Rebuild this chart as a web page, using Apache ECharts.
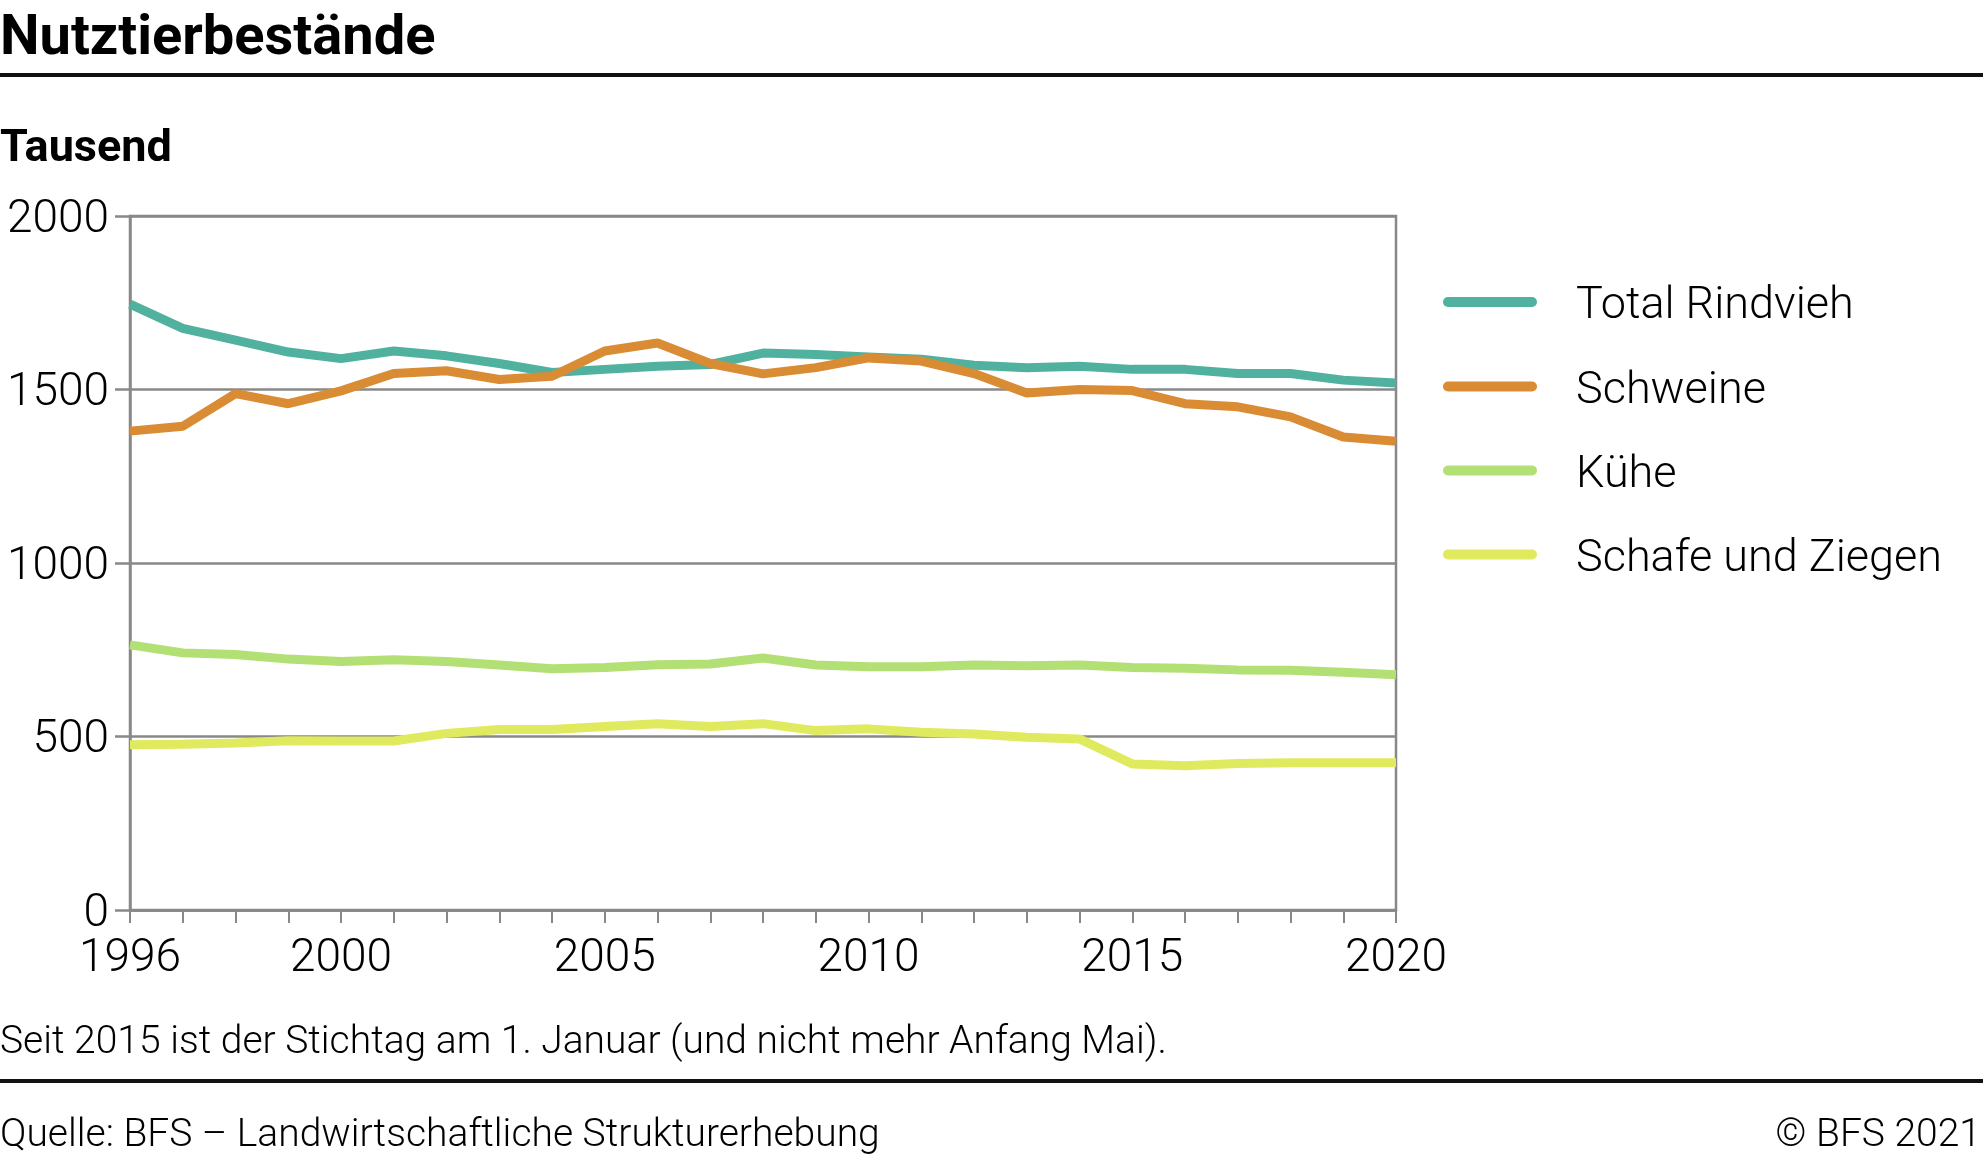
<!DOCTYPE html>
<html>
<head>
<meta charset="utf-8">
<script src="https://cdn.jsdelivr.net/npm/echarts@6/dist/echarts.min.js"></script>
<style>
html,body{margin:0;padding:0;background:#fff;}
#chart{width:1983px;height:1161px;}
</style>
</head>
<body>
<div id="chart"></div>
<script>
const years = ['1996','1997','1998','1999','2000','2001','2002','2003','2004','2005','2006','2007','2008','2009','2010','2011','2012','2013','2014','2015','2016','2017','2018','2019','2020'];
const xLabelsShown = ['1996','2000','2005','2010','2015','2020'];
const yTicks = [0, 500, 1000, 1500, 2000];
const seriesNames = ['Total Rindvieh','Schweine','Kühe','Schafe und Ziegen'];
const rindvieh = [1746,1676,1642,1608,1589,1611,1597,1575,1549,1558,1567,1572,1605,1601,1594,1587,1570,1563,1567,1558,1558,1546,1546,1527,1519];
const schweine = [1380,1394,1488,1459,1496,1546,1554,1529,1538,1611,1634,1575,1545,1563,1591,1582,1546,1490,1500,1497,1459,1450,1421,1363,1351];
const kuehe = [764,741,736,723,716,721,716,706,695,699,707,709,726,706,701,701,706,704,706,699,697,692,691,685,678];
const schafe = [476,478,481,488,487,487,509,520,520,529,537,529,537,517,522,512,507,498,493,421,416,422,424,424,424];
const colors = ['#50b29e','#d98c33','#b3e074','#e0ea5e'];

const font = 'Roboto, "Noto Sans", sans-serif';
const grey = '#888888';
const seriesData = [rindvieh, schweine, kuehe, schafe];
const legendCenters = [302, 386.5, 470.5, 554.5];
// capsule 94x10 plus an invisible anchor point at y=20 so the label sits slightly lower
const capsule = 'path://M0,20M5,0H89A5,5,0,0,1,89,10H5A5,5,0,0,1,5,0Z';

const chart = echarts.init(document.getElementById('chart'), null, {renderer:'canvas'});
chart.setOption({
  animation: false,
  backgroundColor: '#ffffff',
  grid: {left:130, right:587, top:216, bottom:251, show:true, borderColor:grey, borderWidth:2.5, backgroundColor:'transparent'},
  xAxis: {
    type:'category', data: years, boundaryGap:false,
    axisLine:{show:true, lineStyle:{color:grey, width:2.5}},
    axisTick:{show:true, interval:0, length:13, lineStyle:{color:grey, width:2}},
    axisLabel:{
      interval: function(i, v){ return xLabelsShown.indexOf(v) >= 0; },
      margin:26, fontSize:46, fontFamily:font, fontWeight:300, color:'#000'
    },
    splitLine:{show:false}
  },
  yAxis: {
    type:'value', min:yTicks[0], max:yTicks[yTicks.length-1], interval:500,
    axisLine:{show:true, lineStyle:{color:grey, width:2.5}},
    axisTick:{show:true, length:15, lineStyle:{color:grey, width:2.5}},
    axisLabel:{margin:21, fontSize:46, fontFamily:font, fontWeight:300, color:'#000',
      verticalAlign:'top', lineHeight:8,
      formatter: function(v){ return String(v); }},
    splitLine:{show:true, lineStyle:{color:grey, width:2.5}}
  },
  legend: seriesNames.map((n, i) => ({
    data:[{name:n, icon:capsule}],
    left:1443, top: legendCenters[i] - 22, orient:'vertical', padding:0,
    itemWidth:94, itemHeight:20, selectedMode:false,
    textStyle:{fontSize:45, fontFamily:font, fontWeight:300, color:'#000', lineHeight:54, padding:[0,0,0,34]}
  })),
  series: seriesNames.map((n, i) => ({
    name:n, type:'line', data: seriesData[i], symbol:'none', showSymbol:false,
    lineStyle:{color:colors[i], width:9}, itemStyle:{color:colors[i]},
    z: 2 + i
  })),
  graphic: [
    {type:'text', style:{text:'Nutztierbestände', x:0, y:40, fontSize:56, fontWeight:'bold', fontFamily:font, fill:'#000', verticalAlign:'middle'}},
    {type:'rect', shape:{x:0, y:73, width:1983, height:4}, style:{fill:'#111'}},
    {type:'text', style:{text:'Tausend', x:0, y:150, fontSize:45, fontWeight:'bold', fontFamily:font, fill:'#000', verticalAlign:'middle'}},
    {type:'text', style:{text:'Seit 2015 ist der Stichtag am 1. Januar (und nicht mehr Anfang Mai).', x:0, y:1043, fontSize:39, fontWeight:300, fontFamily:font, fill:'#000', verticalAlign:'middle'}},
    {type:'rect', shape:{x:0, y:1079, width:1983, height:4}, style:{fill:'#111'}},
    {type:'text', style:{text:'Quelle: BFS – Landwirtschaftliche Strukturerhebung', x:0, y:1136, fontSize:39, fontWeight:300, fontFamily:font, fill:'#000', verticalAlign:'middle'}},
    {type:'text', style:{text:'© BFS 2021', x:1981, y:1136, fontSize:39, fontWeight:300, fontFamily:font, fill:'#000', verticalAlign:'middle', align:'right'}}
  ]
});
</script>
</body>
</html>
